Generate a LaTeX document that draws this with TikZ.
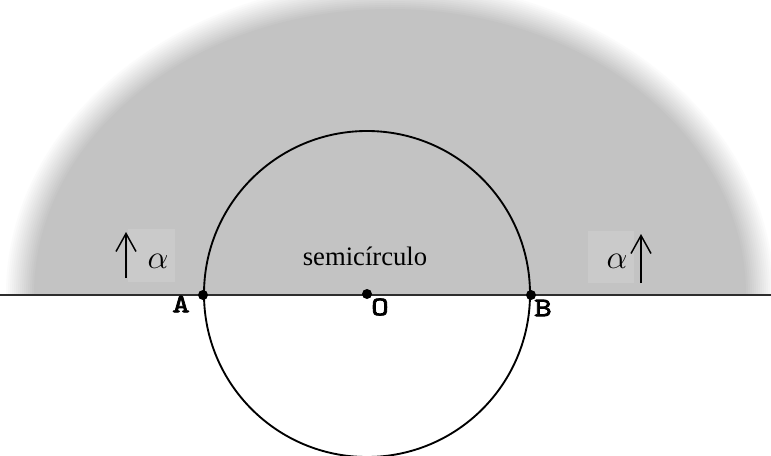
\documentclass[tikz,border=0pt]{standalone}
\usepackage{fontspec}
\setmainfont{Liberation Serif}
\newfontfamily\ptfont{lmmono10-regular.otf}[FakeBold=3, FakeStretch=1.25]
\usetikzlibrary{arrows.meta}

\definecolor{shadegray}{RGB}{195,195,195}
\definecolor{boxgray}{RGB}{202,202,202}
\definecolor{baseline}{RGB}{45,45,45}

\tikzset{every picture/.style={line width=0.75pt}}
\tikzset{
  ptlabel/.style={inner sep=0.75pt, font=\ptfont\bfseries\fontsize{20}{20}\selectfont},
  alphalabel/.style={inner sep=0pt, anchor=base, font=\fontsize{25}{25}\selectfont},
  upstroke/.style={line width=1.1pt, -{Straight Barb[length=13.5pt, width=15pt, line width=1.1pt]}},
}

\begin{document}
\begin{tikzpicture}[x=0.75pt,y=0.75pt,yscale=-1,xscale=1]
        \useasboundingbox (0,0) rectangle (771,456);
        \fill[white] (0,0) rectangle (771,456);

        % blurred upper half-plane region
        \begin{scope}
            \clip (0,0) rectangle (771,295);
            \foreach \k in {0,...,15} {
                \pgfmathsetmacro\dd{16-2*\k}
                \pgfmathsetmacro\pp{100*\k/15}
                \fill[shadegray!\pp!white] (390,295) ellipse ({370+\dd} and {300+\dd});
            }
        \end{scope}

        \draw (151.5,255.5) node [fill=boxgray, minimum width=35.25pt, minimum height=39.75pt, inner sep=0pt] (boxL) {};
        \draw (611,257) node [fill=boxgray, minimum width=34.5pt, minimum height=39pt, inner sep=0pt] (boxR) {};

        \coordinate (lineL) at (0,295);
        \coordinate (lineR) at (771,295);
        \coordinate (O) at (367,294);
        \coordinate (A) at (203,295);
        \coordinate (B) at (531,295);

        \draw [color=baseline, line width=1.2pt] (lineL) -- (lineR);
        \draw [line width=1.4pt] (O) circle (163);

        \fill (A) circle (5);
        \fill (O) circle (5);
        \fill (B) circle (5);

        \coordinate (upL0) at (126,278);
        \coordinate (upL1) at (126,232);
        \coordinate (upR0) at (641,283);
        \coordinate (upR1) at (641,234);
        \draw [upstroke] (upL0) -- (upL1);
        \draw [upstroke] (upR0) -- (upR1);

        \draw (158,268) node [alphalabel] (alphaL) {$\alpha$};
        \draw (617,268) node [alphalabel] (alphaR) {$\alpha$};
        \draw (365,265) node [anchor=base, inner sep=0pt, font=\fontsize{20}{20}\selectfont] (semi) {semicírculo};

        \draw (181,304) node [ptlabel] (labA) {A};
        \draw (380,307) node [ptlabel] (labO) {O};
        \draw (543,308) node [ptlabel] (labB) {B};
\end{tikzpicture}
\end{document}
